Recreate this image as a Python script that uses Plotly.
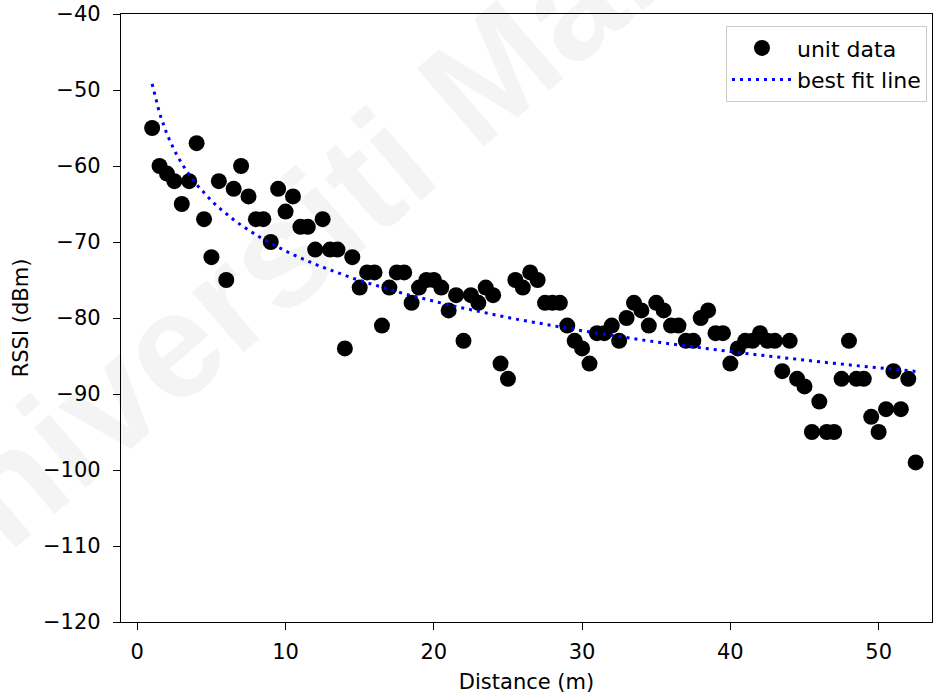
import numpy as np
import plotly.graph_objects as go

# ---- data ----
distance_m = [1, 1.5, 2, 2.5, 3, 3.5, 4, 4.5, 5, 5.5, 6, 6.5, 7, 7.5, 8, 8.5, 9, 9.5, 10, 10.5,
              11, 11.5, 12, 12.5, 13, 13.5, 14, 14.5, 15, 15.5, 16, 16.5, 17, 17.5, 18, 18.5,
              19, 19.5, 20, 20.5, 21, 21.5, 22, 22.5, 23, 23.5, 24, 24.5, 25, 25.5, 26, 26.5,
              27, 27.5, 28, 28.5, 29, 29.5, 30, 30.5, 31, 31.5, 32, 32.5, 33, 33.5, 34, 34.5,
              35, 35.5, 36, 36.5, 37, 37.5, 38, 38.5, 39, 39.5, 40, 40.5, 41, 41.5, 42, 42.5,
              43, 43.5, 44, 44.5, 45, 45.5, 46, 46.5, 47, 47.5, 48, 48.5, 49, 49.5, 50, 50.5,
              51, 51.5, 52, 52.5]
rssi_dbm = [-55, -60, -61, -62, -65, -62, -57, -67, -72, -62, -75, -63, -60, -64, -67, -67, -70, -63, -66, -64,
            -68, -68, -71, -67, -71, -71, -84, -72, -76, -74, -74, -81, -76, -74, -74, -78,
            -76, -75, -75, -76, -79, -77, -83, -77, -78, -76, -77, -86, -88, -75, -76, -74,
            -75, -78, -78, -78, -81, -83, -84, -86, -82, -82, -81, -83, -80, -78, -79, -81,
            -78, -79, -81, -81, -83, -83, -80, -79, -82, -82, -86, -84, -83, -83, -82, -83,
            -83, -87, -83, -88, -89, -95, -91, -95, -95, -88, -83, -88, -88, -93, -95, -92,
            -87, -92, -88, -99]

# best-fit (log-distance) parameters
fit_intercept_dbm = -49.2     # RSSI at 1 m
fit_slope_per_ln = -9.55      # dB per ln(distance)

x_ticks = [0, 10, 20, 30, 40, 50]
y_ticks = [-120, -110, -100, -90, -80, -70, -60, -50, -40]
y_tick_text = ["\u2212120", "\u2212110", "\u2212100", "\u221290", "\u221280",
               "\u221270", "\u221260", "\u221250", "\u221240"]

fit_y = [fit_intercept_dbm + fit_slope_per_ln * np.log(d) for d in distance_m]

FONT = "DejaVu Sans"

fig = go.Figure()
fig.add_trace(go.Scatter(
    x=distance_m, y=rssi_dbm, mode="markers", name="unit data",
    marker=dict(color="black", size=16, line=dict(width=0)),
))
fig.add_trace(go.Scatter(
    x=distance_m, y=fit_y, mode="lines", name="best fit line",
    line=dict(color="#0000ff", width=3, dash="3px,5px"),
))

# faint watermark
fig.add_annotation(
    text="<b>Universiti Malaya</b>", xref="paper", yref="paper",
    x=0.292, y=0.717, xanchor="center", yanchor="middle",
    showarrow=False, textangle=-40.6,
    font=dict(family="Liberation Sans", size=150, color="rgba(0,0,0,0.045)"),
)

axis_common = dict(
    showline=True, linecolor="black", linewidth=1.3, mirror=True,
    ticks="outside", ticklen=7, tickwidth=1.3, tickcolor="black",
    showgrid=False, zeroline=False, ticklabeloverflow="allow",
    tickfont=dict(family=FONT, size=21, color="black"),
)

fig.update_xaxes(
    range=[-1.1, 53.6], tickvals=x_ticks,
    title=dict(text="Distance (m)", font=dict(family=FONT, size=21, color="black"), standoff=10),
    ticklabelstandoff=4,
    **axis_common,
)
fig.update_yaxes(
    range=[-120, -40], tickvals=y_ticks, ticktext=y_tick_text,
    title=dict(text="RSSI (dBm)", font=dict(family=FONT, size=21, color="black"), standoff=8),
    ticklabelstandoff=8,
    **axis_common,
)

fig.update_layout(
    width=945, height=697,
    margin=dict(l=121, r=13, t=14, b=75, autoexpand=False),
    plot_bgcolor="white", paper_bgcolor="white",
    showlegend=True,
    legend=dict(
        x=0.9938, y=0.980, xanchor="right", yanchor="top",
        bgcolor="rgba(255,255,255,0.8)", bordercolor="#cccccc", borderwidth=1,
        font=dict(family=FONT, size=22, color="black"),
        itemwidth=60,
    ),
)

# remove the default page margin so the figure fills the window exactly
fig.write_html("out.html", config={"displayModeBar": False},
               post_script="document.body.style.margin='0';")
